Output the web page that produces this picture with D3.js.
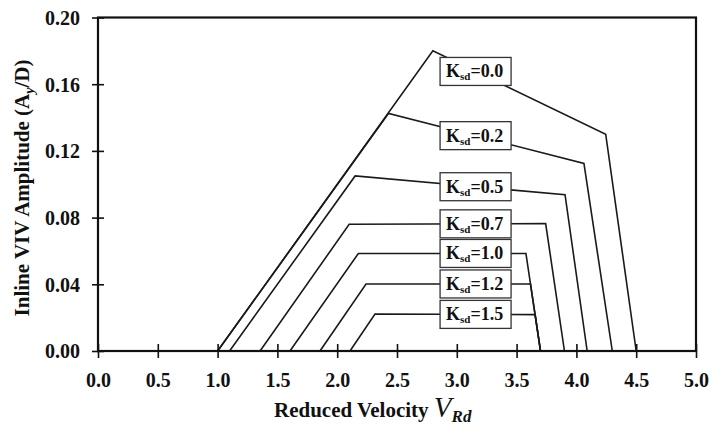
<!DOCTYPE html>
<html>
<head>
<meta charset="utf-8">
<script src="https://cdn.jsdelivr.net/npm/d3@7"></script>
<style>
  body { margin: 0; background: #fff; }
  text { font-family: "Liberation Serif", "Times New Roman", serif; font-weight: bold; fill: #111; }
</style>
</head>
<body>
<div id="chart"></div>
<script>
// Inline VIV response curves, one per Ksd value
const ksd    = ["0.0", "0.2", "0.5", "0.7", "1.0", "1.2", "1.5"];
const vOnset = [1.00, 1.00, 1.10, 1.355, 1.605, 1.856, 2.107];
const v1     = [2.80, 2.43, 2.15, 2.10, 2.177, 2.241, 2.316];
const a1     = [0.180, 0.1425, 0.105, 0.076, 0.0585, 0.0402, 0.0222];
const v2     = [4.245, 4.063, 3.905, 3.743, 3.578, 3.616, 3.655];
const a2     = [0.130, 0.1125, 0.0937, 0.0764, 0.0585, 0.0402, 0.0218];
const vEnd   = [4.50, 4.30, 4.09, 3.90, 3.70, 3.70, 3.70];

const xTicks = [0, 0.5, 1, 1.5, 2, 2.5, 3, 3.5, 4, 4.5, 5];
const yTicks = [0, 0.04, 0.08, 0.12, 0.16, 0.20];

const W = 711, H = 428;
const margin = { top: 17.5, right: 15, bottom: 77, left: 98 };
const width = W - margin.left - margin.right;
const height = H - margin.top - margin.bottom;

const svg = d3.select('#chart').append('svg')
    .attr('width', W)
    .attr('height', H);

const g = svg.append('g')
    .attr('transform', `translate(${margin.left},${margin.top})`);

const x = d3.scaleLinear().domain([0, 5]).range([0, width]);
const y = d3.scaleLinear().domain([0, 0.2]).range([height, 0]);

// curves
const curves = ksd.map((k, i) => ({
    k: k,
    pts: [[vOnset[i], 0], [v1[i], a1[i]], [v2[i], a2[i]], [vEnd[i], 0]]
}));

const line = d3.line().x(d => x(d[0])).y(d => y(d[1]));

g.selectAll('.curve')
    .data(curves)
    .join('path')
    .attr('class', 'curve')
    .attr('d', d => line(d.pts))
    .attr('fill', 'none')
    .attr('stroke', '#1a1a1a')
    .attr('stroke-width', 1.6)
    .attr('stroke-linejoin', 'miter');

// axes
const xAxis = d3.axisBottom(x).tickValues(xTicks).tickFormat(d3.format('.1f')).tickSize(7).tickPadding(15);
const yAxis = d3.axisLeft(y).tickValues(yTicks).tickFormat(d3.format('.2f')).tickSize(6).tickPadding(12);

const gx = g.append('g')
    .attr('transform', `translate(0,${height})`)
    .call(xAxis);
gx.select('.domain').remove();
gx.selectAll('.tick line').attr('y1', -7).attr('y2', 7).attr('stroke', '#111').attr('stroke-width', 1.6);
gx.selectAll('.tick text').attr('font-size', 20).attr('fill', '#111')
    .attr('font-family', '"Liberation Serif", serif').attr('font-weight', 'bold');

const gy = g.append('g').call(yAxis);
gy.select('.domain').remove();
gy.selectAll('.tick line').attr('x1', -6).attr('x2', 6).attr('stroke', '#111').attr('stroke-width', 1.6);
gy.selectAll('.tick text').attr('font-size', 20).attr('fill', '#111')
    .attr('font-family', '"Liberation Serif", serif').attr('font-weight', 'bold')
    .attr('dy', '0.34em');

// frame
g.append('rect')
    .attr('width', width)
    .attr('height', height)
    .attr('fill', 'none')
    .attr('stroke', '#111')
    .attr('stroke-width', 2.2);

// label boxes sit on each curve's middle segment
const labelV = 3.157;
const boxW = 71, boxH = 28;

function ampAt(c, v) {
    const p = c.pts;
    const t = (v - p[1][0]) / (p[2][0] - p[1][0]);
    return p[1][1] + t * (p[2][1] - p[1][1]);
}

const labels = g.selectAll('.lab')
    .data(curves)
    .join('g')
    .attr('class', 'lab')
    .attr('transform', d => `translate(${x(labelV)},${y(ampAt(d, labelV))})`);

labels.append('rect')
    .attr('x', -boxW / 2)
    .attr('y', -boxH / 2)
    .attr('width', boxW)
    .attr('height', boxH)
    .attr('fill', '#fff')
    .attr('stroke', '#333')
    .attr('stroke-width', 1.3);

const lt = labels.append('text')
    .attr('x', -boxW / 2 + 6)
    .attr('y', 6)
    .attr('font-size', 18);
lt.append('tspan').text('K');
lt.append('tspan').attr('font-size', 11).attr('dy', 3).text('sd');
lt.append('tspan').attr('dy', -3).text(d => '=' + d.k);

// axis titles
const xt = svg.append('text')
    .attr('x', 274)
    .attr('y', 417)
    .attr('font-size', 21);
xt.append('tspan').text('Reduced Velocity ');
xt.append('tspan').attr('font-style', 'italic').attr('font-weight', 'normal').attr('font-size', 29).text('V');
xt.append('tspan').attr('font-style', 'italic').attr('font-size', 17).attr('dy', 5).text('Rd');

const yt = svg.append('text')
    .attr('transform', 'translate(29,188) rotate(-90)')
    .attr('text-anchor', 'middle')
    .attr('font-size', 21);
yt.append('tspan').text('Inline VIV Amplitude (A');
yt.append('tspan').attr('font-size', 14).attr('font-style', 'italic').attr('dy', 5).text('y');
yt.append('tspan').attr('dy', -5).text('/D)');
</script>
</body>
</html>
